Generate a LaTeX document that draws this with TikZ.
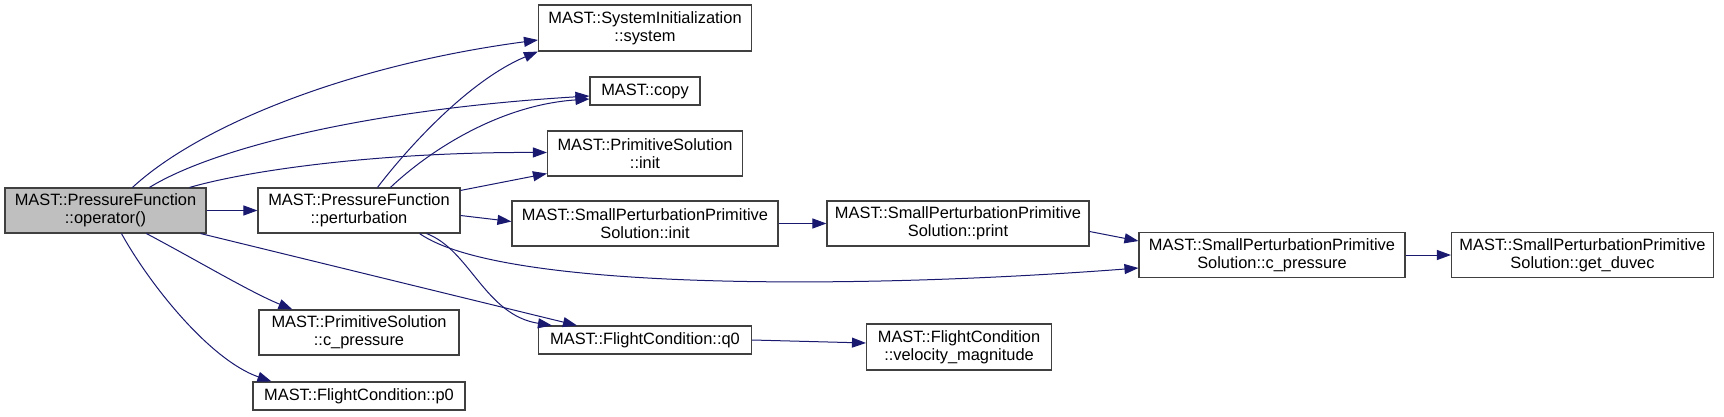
\documentclass[tikz,border=0pt]{standalone}
\usepackage{fontspec}
\setmainfont{Liberation Sans}
\usetikzlibrary{arrows.meta,calc}
\definecolor{edgeblue}{HTML}{191970}
\definecolor{boxline}{HTML}{404040}
\definecolor{boxfill}{HTML}{BFBFBF}
\begin{document}
\begin{tikzpicture}[x=1pt,y=-1pt,
  box/.style={draw=boxline, line width=1.1pt, fill=white, inner sep=0pt, align=center,
    font=\fontsize{16.4}{18}\selectfont, text=black},
  two/.style={box, minimum height=45pt},
  one/.style={box, minimum height=28pt},
  edge/.style={draw=edgeblue, line width=1pt, -{Triangle[length=14pt,width=10pt]}}]
\useasboundingbox (0,0) rectangle (1724,417);

\node[two, fill=boxfill, minimum width=201pt] (op) at (105.5,210.5) {MAST::PressureFunction\\::operator()};
\node[two, minimum width=202pt] (pert) at (359,210.5) {MAST::PressureFunction\\::perturbation};
\node[two, minimum width=200pt] (pscp) at (359,332.5) {MAST::PrimitiveSolution\\::c\_pressure};
\node[one, minimum width=212pt] (p0) at (359,396) {MAST::FlightCondition::p0};
\node[two, minimum width=213pt, minimum height=46pt] (sys) at (645,28) {MAST::SystemInitialization\\::system};
\node[one, minimum width=110pt] (copy) at (645,91) {MAST::copy};
\node[two, minimum width=195pt] (psinit) at (645,153.5) {MAST::PrimitiveSolution\\::init};
\node[two, minimum width=266pt] (sppsinit) at (645,223.5) {MAST::SmallPerturbationPrimitive\\Solution::init};
\node[one, minimum width=213pt] (q0) at (645,340) {MAST::FlightCondition::q0};
\node[two, minimum width=262pt] (print) at (958,223.5) {MAST::SmallPerturbationPrimitive\\Solution::print};
\node[two, minimum width=185pt, minimum height=46pt] (vel) at (959,347) {MAST::FlightCondition\\::velocity\_magnitude};
\node[two, minimum width=266pt] (spcp) at (1272,255) {MAST::SmallPerturbationPrimitive\\Solution::c\_pressure};
\node[two, minimum width=262pt] (duvec) at (1582.5,255) {MAST::SmallPerturbationPrimitive\\Solution::get\_duvec};

% from operator()
\draw[edge] ($(op.north west)+(128,0)$) .. controls (200,125) and (350,65) .. ($(sys.west)+(0,12)$);
\draw[edge] ($(op.north west)+(145,0)$) .. controls (210,150) and (360,110) .. ($(copy.west)+(0,5)$);
\draw[edge] ($(op.north east)+(-17,0)$) .. controls (250,170) and (380,152) .. ($(psinit.west)+(0,-1)$);
\draw[edge] (op.east) -- (pert.west);
\draw[edge] ($(op.south east)+(-6,0)$) -- ($(q0.north west)+(39,0)$);
\draw[edge] ($(op.south west)+(142,0)$) .. controls (200,262) and (250,292) .. ($(pscp.north west)+(34,0)$);
\draw[edge] ($(op.south west)+(117,0)$) .. controls (150,285) and (210,360) .. ($(p0.north west)+(19,0)$);

% from perturbation
\draw[edge] ($(pert.north west)+(120,0)$) .. controls (410,145) and (470,80) .. (sys.south west);
\draw[edge] ($(pert.north west)+(133,0)$) .. controls (430,150) and (500,105) .. ($(copy.west)+(0,8)$);
\draw[edge] ($(pert.north east)+(0,3)$) -- ($(psinit.south west)+(0,-3)$);
\draw[edge] ($(pert.east)+(0,5)$) -- ($(sppsinit.west)+(0,-2)$);
\draw[edge] ($(pert.south east)+(-41,0)$) .. controls (500,290) and (850,290) .. ($(spcp.west)+(0,13)$);
\draw[edge] ($(pert.south east)+(-34,0)$) .. controls (470,250) and (485,315) .. ($(q0.north west)+(14,0)$);

% others
\draw[edge] (sppsinit.east) -- (print.west);
\draw[edge] ($(print.east)+(0,8)$) -- ($(spcp.west)+(0,-14)$);
\draw[edge] (spcp.east) -- (duvec.west);
\draw[edge] (q0.east) -- ($(vel.west)+(0,-4)$);
\end{tikzpicture}
\end{document}
